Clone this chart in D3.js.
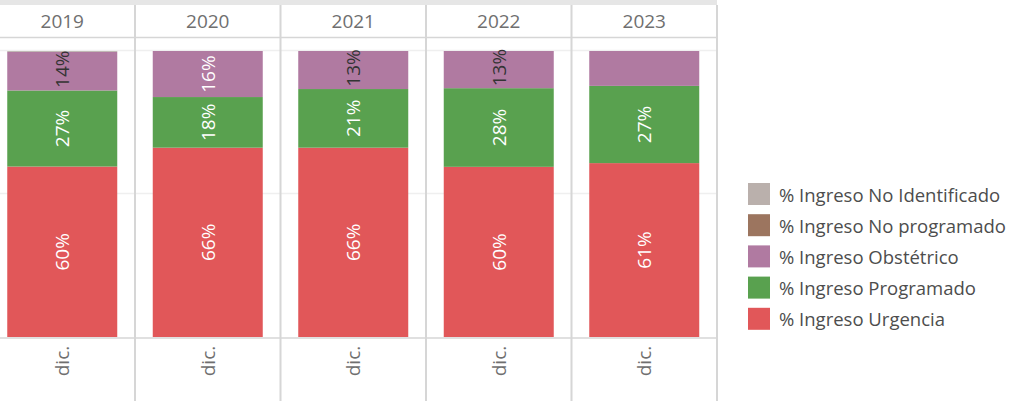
<!DOCTYPE html>
<html>
<head>
<meta charset="utf-8">
<script src="https://cdn.jsdelivr.net/npm/d3@7"></script>
<style>
  body { margin: 0; background: #fff; }
  svg { display: block; font-family: "Open Sans", Lato, sans-serif; }
</style>
</head>
<body>
<svg id="chart" width="1010" height="401"></svg>
<script>
// data (percent of admissions, December of each year)
const years = ['2019', '2020', '2021', '2022', '2023'];
const monthLabel = 'dic.';
const seriesNames = ['% Ingreso Urgencia', '% Ingreso Programado', '% Ingreso Obstétrico',
    '% Ingreso No programado', '% Ingreso No Identificado'];
const urgencia     = [59.6, 66.2, 66.2, 59.5, 60.8];
const programado   = [26.6, 17.7, 20.5, 27.5, 27.0];
const obstetrico   = [13.5, 16.1, 13.3, 13.0, 12.2];
const noProgramado = [0, 0, 0, 0, 0];
const noIdent      = [0.3, 0, 0, 0, 0];
const legendOrder = ['% Ingreso No Identificado', '% Ingreso No programado', '% Ingreso Obstétrico',
    '% Ingreso Programado', '% Ingreso Urgencia'];

const colors = {
    '% Ingreso Urgencia': '#e15759',
    '% Ingreso Programado': '#59a14f',
    '% Ingreso Obstétrico': '#b07aa1',
    '% Ingreso No programado': '#9c755f',
    '% Ingreso No Identificado': '#bab0ac'
};

const W = 1010, H = 401;
const gridRight = 717;
const plotTop = 51, plotBottom = 337;
const lineColor = '#d6d6d6';

const svg = d3.select('#chart');

let rows = years.map(function(y, i) {
    return {year: y, '% Ingreso Urgencia': urgencia[i], '% Ingreso Programado': programado[i],
        '% Ingreso Obstétrico': obstetrico[i], '% Ingreso No programado': noProgramado[i],
        '% Ingreso No Identificado': noIdent[i]};
});
let stacked = d3.stack().keys(seriesNames)(rows);

let x = d3.scaleBand().domain(years).range([-10.5, gridRight]).padding(0);
let barW = x.bandwidth() * 0.756;
let y = d3.scaleLinear().domain([0, 100]).range([plotBottom, plotTop]);

// header band
svg.append('rect').attr('x', 0).attr('y', 0).attr('width', gridRight).attr('height', 5).attr('fill', '#e6e6e6');

// gridlines
svg.append('g').selectAll('line')
    .data([100, 50])
    .enter().append('line')
    .attr('x1', 0).attr('x2', gridRight)
    .attr('y1', function(d) { return Math.round(y(d)) - 0.5; })
    .attr('y2', function(d) { return Math.round(y(d)) - 0.5; })
    .attr('stroke', '#efefef').attr('stroke-width', 1.5);

// bars
let layers = svg.append('g').selectAll('g')
    .data(stacked)
    .enter().append('g')
    .attr('fill', function(d) { return colors[d.key]; });

layers.selectAll('rect')
    .data(function(d) { return d; })
    .enter().append('rect')
    .attr('x', function(d) { return x(d.data.year) + (x.bandwidth() - barW) / 2; })
    .attr('width', barW)
    .attr('y', function(d) { return y(d[1]); })
    .attr('height', function(d) { return y(d[0]) - y(d[1]); });

// labels inside segments
let labelData = [];
stacked.forEach(function(layer) {
    layer.forEach(function(d) {
        let h = y(d[0]) - y(d[1]);
        if (h >= 36) {
            labelData.push({year: d.data.year, value: d[1] - d[0], mid: (y(d[0]) + y(d[1])) / 2, h: h});
        }
    });
});

svg.append('g').selectAll('text')
    .data(labelData)
    .enter().append('text')
    .attr('transform', function(d) {
        return 'translate(' + (x(d.year) + x.bandwidth() / 2) + ',' + (d.h < 44 ? d.mid - 2 : d.mid) + ') rotate(-90)';
    })
    .attr('text-anchor', 'middle')
    .attr('dy', '0.36em')
    .attr('font-size', 19)
    .attr('fill', function(d) { return d.h < 44 ? '#333' : '#fff'; })
    .text(function(d) { return Math.round(d.value) + '%'; });

// header texts
svg.append('g').selectAll('text')
    .data(years)
    .enter().append('text')
    .attr('x', function(d) { return x(d) + x.bandwidth() / 2; })
    .attr('y', 28)
    .attr('text-anchor', 'middle')
    .attr('font-size', 19)
    .attr('fill', '#6f6f6f')
    .text(function(d) { return d; });

// month labels at bottom
svg.append('g').selectAll('text')
    .data(years)
    .enter().append('text')
    .attr('transform', function(d) { return 'translate(' + (x(d) + x.bandwidth() / 2) + ',361) rotate(-90)'; })
    .attr('text-anchor', 'middle')
    .attr('dy', '0.36em')
    .attr('font-size', 19)
    .attr('fill', '#6f6f6f')
    .text(monthLabel);

// horizontal rule lines
svg.append('line').attr('x1', 0).attr('x2', gridRight).attr('y1', 37.5).attr('y2', 37.5)
    .attr('stroke', lineColor).attr('stroke-width', 1.5);
svg.append('line').attr('x1', 0).attr('x2', gridRight).attr('y1', 338).attr('y2', 338)
    .attr('stroke', lineColor).attr('stroke-width', 1.5);

// column dividers
svg.append('g').selectAll('line')
    .data(years)
    .enter().append('line')
    .attr('x1', function(d) { return x(d) + x.bandwidth(); })
    .attr('x2', function(d) { return x(d) + x.bandwidth(); })
    .attr('y1', 5).attr('y2', H)
    .attr('stroke', lineColor).attr('stroke-width', 2);

// legend
let legend = svg.append('g').attr('transform', 'translate(748, 183)');
let items = legend.selectAll('g')
    .data(legendOrder)
    .enter().append('g')
    .attr('transform', function(d, i) { return 'translate(0,' + i * 31.2 + ')'; });
items.append('rect').attr('width', 22).attr('height', 22).attr('fill', function(d) { return colors[d]; });
items.append('text')
    .attr('x', 31).attr('y', 12).attr('dy', '0.36em')
    .attr('font-size', 18.5)
    .attr('fill', '#4d4d4d')
    .text(function(d) { return d; });
</script>
</body>
</html>
